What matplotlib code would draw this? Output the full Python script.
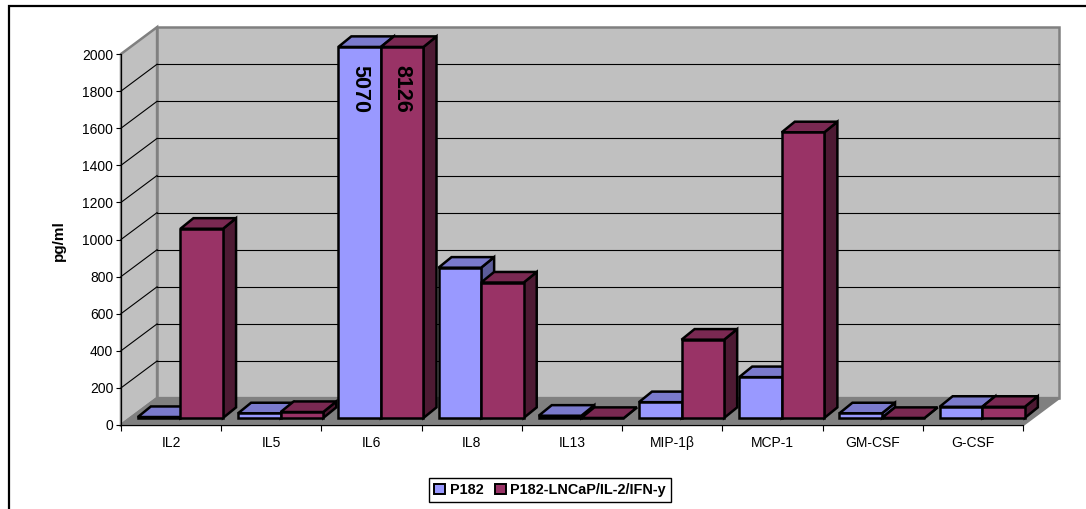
import matplotlib
matplotlib.use('Agg')
import matplotlib.pyplot as plt
from matplotlib.patches import Polygon, Patch, Rectangle

plt.rcParams['font.family'] = ['Liberation Sans', 'DejaVu Sans']

categories = ['IL2', 'IL5', 'IL6', 'IL8', 'IL13', 'MIP-1β', 'MCP-1', 'GM-CSF', 'G-CSF']
p182 = [5, 25, 5070, 810, 12, 85, 220, 25, 60]
p182_lncap = [1020, 32, 8126, 730, 0, 422, 1540, 0, 60]
series_names = ['P182', 'P182-LNCaP/IL-2/IFN-y']
y_ticks = list(range(0, 2001, 200))
y_max = 2000

# colours per series: front, top, side
colors = [('#9999FF', '#7A7ACC', '#5C5C99'),
          ('#993366', '#7A2952', '#4D1A33')]

# oblique depth, in data units (categories / pg/ml)
wall_dx, wall_dy = 0.36, 145
off_dx, off_dy = 0.093, 38
bar_dx, bar_dy = 0.13, 57
bar_w, gap = 0.425, 0.075

W, H = 1086, 509
fig = plt.figure(figsize=(W / 100, H / 100), dpi=100)
ax = fig.add_axes([121 / W, (H - 425) / H, 902 / W, 371 / H])
ax.set_xlim(0, len(categories))
ax.set_ylim(0, y_max)
ax.patch.set_visible(False)
n = len(categories)

# walls and floor
left_wall = [(0, 0), (0, y_max), (wall_dx, y_max + wall_dy), (wall_dx, wall_dy)]
back_wall = [(wall_dx, wall_dy), (wall_dx, y_max + wall_dy),
             (n + wall_dx, y_max + wall_dy), (n + wall_dx, wall_dy)]
floor = [(0, 0), (n, 0), (n + wall_dx, wall_dy), (wall_dx, wall_dy)]
for pts, fc in [(left_wall, '#C0C0C0'), (back_wall, '#C0C0C0'), (floor, '#808080')]:
    ax.add_patch(Polygon(pts, closed=True, fc=fc, ec='#808080', lw=1.8,
                         clip_on=False, zorder=0.5))

for v in y_ticks[1:-1]:
    ax.plot([0, wall_dx], [v, v + wall_dy], color='black', lw=0.8, clip_on=False, zorder=0.6)
    ax.plot([wall_dx, n + wall_dx], [v + wall_dy, v + wall_dy], color='black', lw=0.8,
            clip_on=False, zorder=0.6)


def bar3d(x, h, cols):
    h = min(h, y_max)
    y = off_dy
    front = [(x, y), (x + bar_w, y), (x + bar_w, y + h), (x, y + h)]
    top = [(x, y + h), (x + bar_w, y + h), (x + bar_w + bar_dx, y + h + bar_dy),
           (x + bar_dx, y + h + bar_dy)]
    side = [(x + bar_w, y), (x + bar_w + bar_dx, y + bar_dy),
            (x + bar_w + bar_dx, y + h + bar_dy), (x + bar_w, y + h)]
    for pts, fc in [(side, cols[2]), (top, cols[1]), (front, cols[0])]:
        ax.add_patch(Polygon(pts, closed=True, fc=fc, ec='black', lw=1.8,
                             joinstyle='miter', clip_on=False, zorder=1))


for i in range(n):
    for s, vals in enumerate([p182, p182_lncap]):
        x = i + gap + off_dx + s * bar_w
        bar3d(x, vals[i], colors[s])
        if vals[i] > y_max:
            # values off the scale are written on the bar
            ax.text(x + bar_w / 2, y_max + off_dy - 95, str(vals[i]), rotation=-90,
                    ha='center', va='top', fontsize=15.5, fontweight='bold', zorder=3)

# axes
for side in ['top', 'right']:
    ax.spines[side].set_visible(False)
for side in ['left', 'bottom']:
    ax.spines[side].set_color('black')
    ax.spines[side].set_linewidth(0.8)
ax.set_yticks(y_ticks)
ax.set_xticks(range(n + 1))
ax.set_xticklabels([])
ax.set_xticks([i + 0.5 for i in range(n)], minor=True)
ax.set_xticklabels(categories, minor=True)
ax.tick_params(axis='y', direction='out', length=3.6, width=0.8, labelsize=10, pad=2)
ax.tick_params(axis='x', which='major', direction='out', length=4.5, width=0.8)
ax.tick_params(axis='x', which='minor', length=0, labelsize=10, pad=8)

fig.text(59 / W, 1 - 241 / H, 'pg/ml', rotation=90, ha='center', va='center',
         fontsize=11, fontweight='bold')

handles = [Patch(fc=colors[s][0], ec='black', lw=1.4, label=series_names[s]) for s in range(2)]
fig.legend(handles=handles, loc='center', bbox_to_anchor=(550 / W, 1 - 490 / H),
           ncol=2, frameon=True, fancybox=False, edgecolor='black', framealpha=1,
           prop={'weight': 'bold', 'size': 10.4}, handlelength=0.75, handleheight=0.75,
           handletextpad=0.3, columnspacing=0.8, borderpad=0.35, borderaxespad=0)

# chart area border
fig.add_artist(Rectangle((9 / W, -0.1), 1.2, 1.1 - 6 / H, transform=fig.transFigure,
                         fill=False, ec='black', lw=1.6))

fig.savefig('out.png', dpi=100)
